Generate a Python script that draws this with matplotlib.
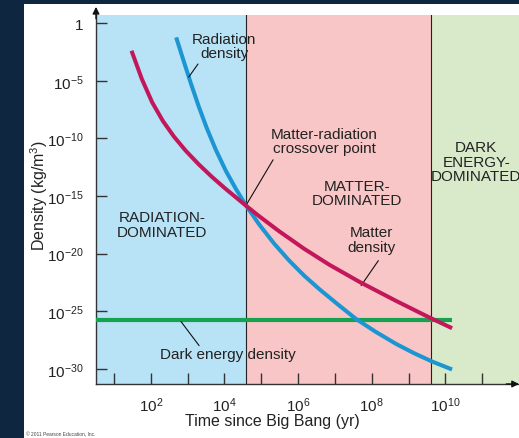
import numpy as np
import matplotlib
matplotlib.use("Agg")
import matplotlib.pyplot as plt
from matplotlib.patches import Rectangle
from matplotlib.ticker import FixedLocator, FuncFormatter

plt.rcParams["font.family"] = ["Liberation Sans", "DejaVu Sans"]
plt.rcParams["mathtext.fontset"] = "custom"
plt.rcParams["mathtext.rm"] = "Liberation Sans"
plt.rcParams["mathtext.it"] = "Liberation Sans:italic"

# ── data (log10 values) ──────────────────────────────────────────────────────
rad_logt = [2.688, 2.871, 3.088, 3.306, 3.524, 3.769, 4.041, 4.313, 4.577,
            4.939, 5.347, 5.755, 6.163, 6.571, 7.061, 7.570, 8.095, 8.659,
            9.156, 9.646, 10.182]
rad_logrho = [-1.24, -3.09, -5.24, -7.28, -9.15, -11.02, -12.84, -14.40,
              -15.78, -17.45, -19.12, -20.59, -21.90, -23.06, -24.35, -25.65,
              -26.75, -27.82, -28.64, -29.36, -30.04]

mat_logt = [1.475, 1.755, 2.035, 2.327, 2.626, 2.944, 3.306, 3.660, 4.014,
            4.577, 4.939, 5.483, 6.163, 6.844, 7.660, 8.659, 9.565, 10.182]
mat_logrho = [-2.40, -4.85, -6.87, -8.49, -9.84, -11.06, -12.27, -13.34,
              -14.33, -15.82, -16.74, -18.05, -19.57, -20.95, -22.43, -24.09,
              -25.53, -26.46]

de_logt = [0.5, 10.18]
de_logrho = [-25.71, -25.71]

era_edges = [0.51, 4.585, 9.62, 12.0]   # radiation | matter | dark energy
era_colors = ["#b8e2f6", "#f8c6c6", "#d8eac9"]

x_tick_exp = list(range(1, 12))
x_label_exp = [2, 4, 6, 8, 10]
y_tick_exp = [0, -5, -10, -15, -20, -25, -30]

BG = "#0e2640"

# ── figure ───────────────────────────────────────────────────────────────────
fig = plt.figure(figsize=(5.19, 4.39), dpi=100, facecolor=BG)
fig.patches.append(Rectangle((24 / 519, 0), 1, 1 - 5 / 439,
                             transform=fig.transFigure, facecolor="white",
                             edgecolor="none", zorder=-5))

ax = fig.add_axes([96 / 519, 1 - 385 / 439, 423 / 519, 369 / 439])
ax.set_zorder(2)
ax.set_xscale("log")
ax.set_yscale("log")
ax.set_xlim(10 ** era_edges[0], 10 ** era_edges[-1])
ax.set_ylim(10 ** -31.3, 10 ** 0.7)

for i, c in enumerate(era_colors):
    ax.axvspan(10 ** era_edges[i], 10 ** era_edges[i + 1], color=c, lw=0, zorder=0)
for e in era_edges[1:3]:
    ax.axvline(10 ** e, color="#222222", lw=0.8, zorder=1)

ax.plot(10 ** np.array(de_logt), 10 ** np.array(de_logrho), color="#16a34f",
        lw=3.0, solid_capstyle="butt", zorder=3)
ax.plot(10 ** np.array(rad_logt), 10 ** np.array(rad_logrho), color="#1b96d3",
        lw=2.9, solid_capstyle="butt", solid_joinstyle="round", zorder=3)
ax.plot(10 ** np.array(mat_logt), 10 ** np.array(mat_logrho), color="#c2185b",
        lw=2.9, solid_capstyle="butt", solid_joinstyle="round", zorder=4)

# axes / ticks
for s in ["top", "right"]:
    ax.spines[s].set_visible(False)
for s in ["left", "bottom"]:
    ax.spines[s].set_color("#333333")
    ax.spines[s].set_linewidth(1.0)

ax.xaxis.set_major_locator(FixedLocator([10.0 ** e for e in x_tick_exp]))
ax.xaxis.set_minor_locator(FixedLocator([]))
ax.yaxis.set_major_locator(FixedLocator([10.0 ** e for e in y_tick_exp]))
ax.yaxis.set_minor_locator(FixedLocator([]))


def fmt_x(v, pos):
    e = int(round(np.log10(v)))
    return r"$\mathregular{10^{%d}}$" % e if e in x_label_exp else ""


def fmt_y(v, pos):
    e = int(round(np.log10(v)))
    return "1" if e == 0 else r"$\mathregular{10^{%d}}$" % e


ax.xaxis.set_major_formatter(FuncFormatter(fmt_x))
ax.yaxis.set_major_formatter(FuncFormatter(fmt_y))
ax.tick_params(direction="in", length=8, width=1.0, color="#333333",
               labelsize=11, labelcolor="#222222")
ax.tick_params(axis="y", pad=9)
ax.tick_params(axis="x", pad=8)

# axis arrows
ax.annotate("", xy=(0, 1.022), xycoords="axes fraction", xytext=(0, 0.99),
            arrowprops=dict(arrowstyle="-|>", color="#111111", lw=1.0,
                            mutation_scale=10, shrinkA=0, shrinkB=0),
            annotation_clip=False)
ax.annotate("", xy=(1.0, 0), xycoords="axes fraction", xytext=(0.97, 0),
            arrowprops=dict(arrowstyle="-|>", color="#111111", lw=1.0,
                            mutation_scale=10, shrinkA=0, shrinkB=0),
            annotation_clip=False)

fig.text(272 / 519, 1 - 422 / 439, "Time since Big Bang (yr)", ha="center",
         va="center", fontsize=11.5, color="#222222")
fig.text(39 / 519, 1 - 196 / 439, r"Density (kg/m$^3$)", rotation=90,
         ha="center", va="center", fontsize=11.5, color="#222222")
fig.text(26 / 519, 1 - 435 / 439, "© 2011 Pearson Education, Inc.",
         ha="left", va="center", fontsize=3.5, color="#444444")

# labels
tk = dict(ha="center", va="center", fontsize=11, color="#222222",
          linespacing=1.05, zorder=6)
leader = dict(arrowstyle="-", color="#111111", lw=0.8, shrinkA=0, shrinkB=0)


def P(lt, lr):
    return (10 ** lt, 10 ** lr)


ax.text(*P(3.99, -1.99), "Radiation\ndensity", **tk)
ax.annotate("", xy=P(3.03, -4.68), xytext=P(3.28, -3.55), arrowprops=leader)

ax.text(*P(6.71, -10.22), "Matter-radiation\ncrossover point", **tk)
ax.annotate("", xy=P(4.61, -15.67), xytext=P(5.32, -11.86), arrowprops=leader)

ax.text(*P(7.61, -14.72), "MATTER-\nDOMINATED", **tk)
ax.text(*P(2.30, -17.49), "RADIATION-\nDOMINATED", **tk)
ax.text(*P(10.84, -12.03), "DARK\nENERGY-\nDOMINATED", **tk)

ax.text(*P(7.99, -18.79), "Matter\ndensity", **tk)
ax.annotate("", xy=P(7.71, -22.77), xytext=P(8.18, -20.6), arrowprops=leader)

ax.text(*P(4.10, -28.66), "Dark energy density", **tk)
ax.annotate("", xy=P(2.82, -25.89), xytext=P(3.31, -27.97), arrowprops=leader)

fig.savefig("out.png", dpi=100, facecolor=BG)
